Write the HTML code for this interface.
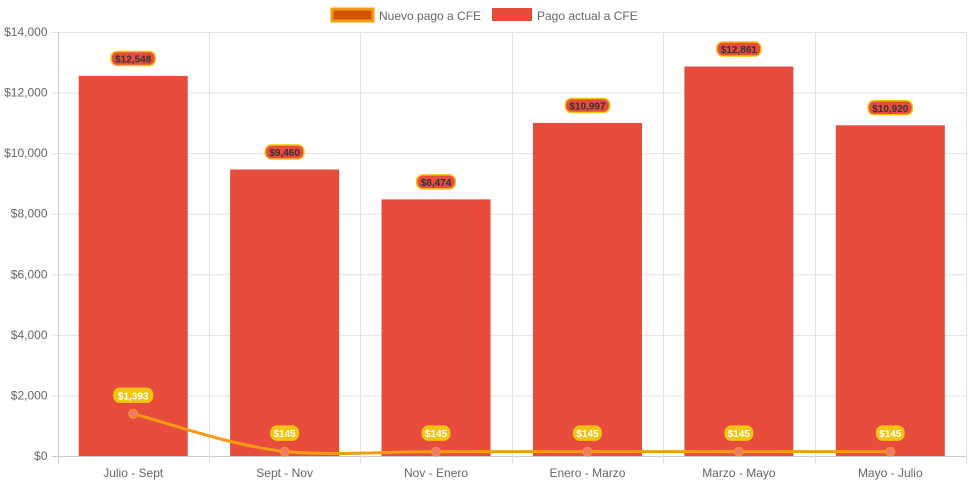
<!DOCTYPE html>
<html><head><meta charset="utf-8"><style>
body{margin:0;background:#fff;width:971px;height:485px;overflow:hidden;font-family:"Liberation Sans",Arial,sans-serif}
</style></head><body>
<svg id="c" width="971" height="485" xmlns="http://www.w3.org/2000/svg"></svg>
<script>
const categories=["Julio - Sept","Sept - Nov","Nov - Enero","Enero - Marzo","Marzo - Mayo","Mayo - Julio"];
const actual=[12548,9460,8474,10997,12861,10920];
const nuevo=[1393,145,145,145,145,145];
const yTicks=[0,2000,4000,6000,8000,10000,12000,14000];
const L=57.5,R=966,T=32,B=456,yMax=14000;
const svg=document.getElementById('c');const NS='http://www.w3.org/2000/svg';
const cw=(R-L)/categories.length;
const x=i=>L+cw*(i+0.5);
const y=v=>B-(v/yMax)*(B-T);
function el(t,a,p){const e=document.createElementNS(NS,t);for(const k in a)e.setAttribute(k,a[k]);(p||svg).appendChild(e);return e;}
const fmt=v=>'$'+v.toLocaleString('en-US');
const grid=el('g',{});


yTicks.forEach(t=>{
  el('line',{x1:L-6,x2:R,y1:y(t)+0.5,y2:y(t)+0.5,stroke:t===0?'#ccc':'#e2e2e2'},grid);
  const tx=el('text',{x:L-10,y:y(t)+4,'text-anchor':'end','font-size':12,fill:'#666'});
  tx.textContent=fmt(t);
  
  
});
for(let i=0;i<=categories.length;i++){
  const xx=Math.round(L+cw*i)+0.5;
  el('line',{x1:xx,x2:xx,y1:T,y2:B+8,stroke:i===0?'#ccc':'#e2e2e2'},grid);
}
categories.forEach((c,i)=>{
  const t=el('text',{x:x(i),y:477,'text-anchor':'middle','font-size':12,fill:'#666'});
  t.textContent=c;
  
  
});
const bw=cw*0.72;
actual.forEach((v,i)=>{
  const r=el('rect',{x:x(i)-bw/2,y:y(v),width:bw,height:B-y(v),fill:'#e74c3c'});
  
  
});
const pts=nuevo.map((v,i)=>[x(i),y(v)]);
let d='M'+pts[0][0]+','+pts[0][1];
for(let i=0;i<pts.length-1;i++){
  const p0=pts[Math.max(0,i-1)],p1=pts[i],p2=pts[i+1],p3=pts[Math.min(pts.length-1,i+2)];
  const t=0.4/2;
  const c1=[p1[0]+(p2[0]-p0[0])*t,p1[1]+(p2[1]-p0[1])*t];
  const c2=[p2[0]-(p3[0]-p1[0])*t,p2[1]-(p3[1]-p1[1])*t];
  d+=` C${c1[0]},${Math.min(c1[1],B)} ${c2[0]},${Math.min(c2[1],B)} ${p2[0]},${p2[1]}`;
}
const ln=el('path',{d:d,fill:'none',stroke:'#f39c12','stroke-width':3});


pts.forEach((p,i)=>{
  const c=el('circle',{cx:p[0],cy:p[1],r:4.5,fill:'#f1786b',stroke:'#f39c12','stroke-width':1});
  
  
});
function label(cx,cy,txt,bg,border,color,name){
  const w=txt.length*5.6+5;
  const g=el('g',{});
  
  
  el('rect',{x:cx-w/2,y:cy-7.5,width:w,height:14,rx:6,fill:bg,stroke:border,'stroke-width':1.5},g);
  const t=el('text',{x:cx,y:cy+3.5,'text-anchor':'middle','font-size':10,'font-weight':'bold',fill:color},g);
  t.textContent=txt;
}
actual.forEach((v,i)=>label(x(i),y(v)-17,fmt(v),'#e74c3c','#f1c40f','#333','label-actual-'+i));
nuevo.forEach((v,i)=>label(x(i),y(v)-18,fmt(v),'#f1c40f','#f1c40f','#fff','label-nuevo-'+i));
const lg=el('g',{});


el('rect',{x:332,y:9,width:41,height:12,fill:'#d35400',stroke:'#f39c12','stroke-width':3},lg);
const t1=el('text',{x:379,y:20,'font-size':12,fill:'#666'},lg);t1.textContent='Nuevo pago a CFE';
el('rect',{x:492,y:8,width:40,height:13,fill:'#e74c3c'},lg);
const t2=el('text',{x:537,y:20,'font-size':12,fill:'#666'},lg);t2.textContent='Pago actual a CFE';
</script>
</body></html>
